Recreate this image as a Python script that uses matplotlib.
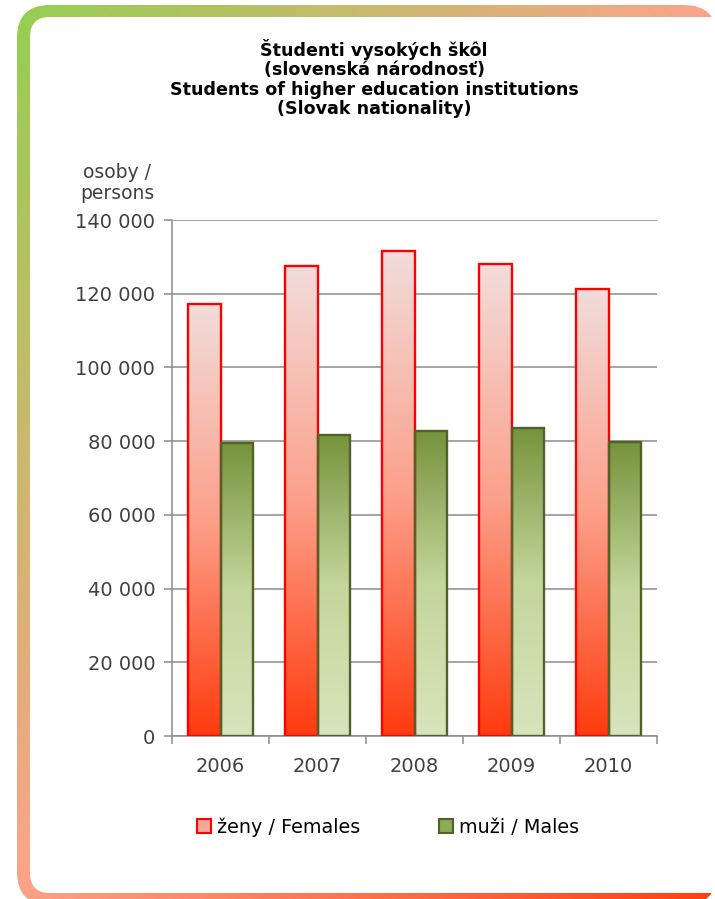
import numpy as np
import matplotlib
matplotlib.use("Agg")
import matplotlib.pyplot as plt
from matplotlib.patches import FancyBboxPatch, Rectangle, Patch
from matplotlib.colors import LinearSegmentedColormap, to_rgb

# ---- data ----
years = ["2006", "2007", "2008", "2009", "2010"]
females = [117100, 127600, 131500, 128000, 121400]
males = [79600, 81800, 82700, 83600, 79700]
yticks = [0, 20000, 40000, 60000, 80000, 100000, 120000, 140000]
ytick_labels = ["0", "20 000", "40 000", "60 000", "80 000", "100 000", "120 000", "140 000"]
title = "Študenti vysokých škôl\n(slovenská národnosť)\nStudents of higher education institutions\n(Slovak nationality)"
ylabel = "osoby /\npersons"
legend_labels = ["ženy / Females", "muži / Males"]

W, H = 715, 899
fig = plt.figure(figsize=(W / 100, H / 100), dpi=100)
fig.patch.set_facecolor("white")

# ---- decorative gradient frame ----
bg = fig.add_axes([0, 0, 1, 1])
bg.set_xlim(0, W)
bg.set_ylim(H, 0)
bg.axis("off")
stops = [(0.0, "#92D050"), (0.5, "#FAA48A"), (1.0, "#FF4010")]
frame_cmap = LinearSegmentedColormap.from_list("frame", stops)
gx, gy = np.meshgrid(np.linspace(0, 1, 300), np.linspace(0, 1, 300))
grad = (gx + gy) / 2
outer = FancyBboxPatch((17, 5), 700, 900, boxstyle="round,pad=0,rounding_size=33",
                       transform=bg.transData, facecolor="none", edgecolor="none")
bg.add_patch(outer)
im = bg.imshow(grad, cmap=frame_cmap, extent=(0, W, H, 0), aspect="auto", zorder=0)
im.set_clip_path(outer)
inner = FancyBboxPatch((30, 17), 760, 876, boxstyle="round,pad=0,rounding_size=20",
                       transform=bg.transData, facecolor="white", edgecolor="none", zorder=1)
bg.add_patch(inner)

# ---- chart ----
ax = fig.add_axes([172 / W, 1 - 736 / H, (657 - 172) / W, (736 - 220) / H])
ax.set_facecolor("none")
x = np.arange(len(years))
bw = 0.34
fem_cmap = LinearSegmentedColormap.from_list("fem", [(0, "#FF3B0E"), (0.5, "#FCA08A"), (1, "#F2DCDB")])
mal_cmap = LinearSegmentedColormap.from_list("mal", [(0, "#D8E4BD"), (0.5, "#C3D69B"), (1, "#76933C")])
vgrad = np.linspace(0, 1, 256).reshape(-1, 1)

fb = ax.bar(x - bw / 2, females, width=bw, facecolor="none", edgecolor="#FF0000", linewidth=1.7, zorder=3)
mb = ax.bar(x + bw / 2, males, width=bw, facecolor="none", edgecolor="#4F6228", linewidth=1.7, zorder=3)
for bars, cmap in ((fb, fem_cmap), (mb, mal_cmap)):
    for r in bars:
        x0, w_, h_ = r.get_x(), r.get_width(), r.get_height()
        g = ax.imshow(vgrad, cmap=cmap, origin="lower", extent=(x0, x0 + w_, 0, h_),
                      aspect="auto", zorder=2)
        g.set_clip_path(r)

ax.set_xlim(-0.5, len(years) - 0.5)
ax.set_ylim(0, 140000)
ax.set_yticks(yticks)
ax.set_yticklabels(ytick_labels)
ax.yaxis.grid(True, color="#8C8C8C", linewidth=1.1, zorder=1)
ax.set_axisbelow(True)
ax.set_xticks(x)
ax.set_xticklabels(years)
ax.set_xticks(np.arange(-0.5, len(years)), minor=True)
ax.tick_params(axis="x", which="major", length=0, pad=15)
ax.tick_params(axis="x", which="minor", length=6, width=1.1, color="#8C8C8C", direction="out")
ax.tick_params(axis="y", length=6, width=1.1, color="#8C8C8C", direction="out", pad=6)
for lab in ax.get_xticklabels() + ax.get_yticklabels():
    lab.set_fontsize(14)
    lab.set_color("#404040")
for s in ("top", "right"):
    ax.spines[s].set_visible(False)
for s in ("left", "bottom"):
    ax.spines[s].set_color("#8C8C8C")
    ax.spines[s].set_linewidth(1.1)

fig.text(374 / W, 1 - 78.5 / H, title, ha="center", va="center", fontsize=12.6,
         fontweight="bold", linespacing=1.1, color="black")
fig.text(117 / W, 1 - 183 / H, ylabel, ha="center", va="center", fontsize=13.5,
         color="#404040", linespacing=1.15)

handles = [Patch(facecolor="#F9A898", edgecolor="#FF0000", linewidth=1.5),
           Patch(facecolor="#8DAA57", edgecolor="#4F6228", linewidth=1.5)]
leg = fig.legend(handles, legend_labels, loc="center", bbox_to_anchor=(388 / W, 1 - 827 / H),
                 ncol=2, frameon=False, fontsize=13.8, handlelength=0.75, handleheight=0.75,
                 handletextpad=0.3, columnspacing=4.1)
for t in leg.get_texts():
    t.set_color("black")

fig.savefig("out.png", dpi=100)
